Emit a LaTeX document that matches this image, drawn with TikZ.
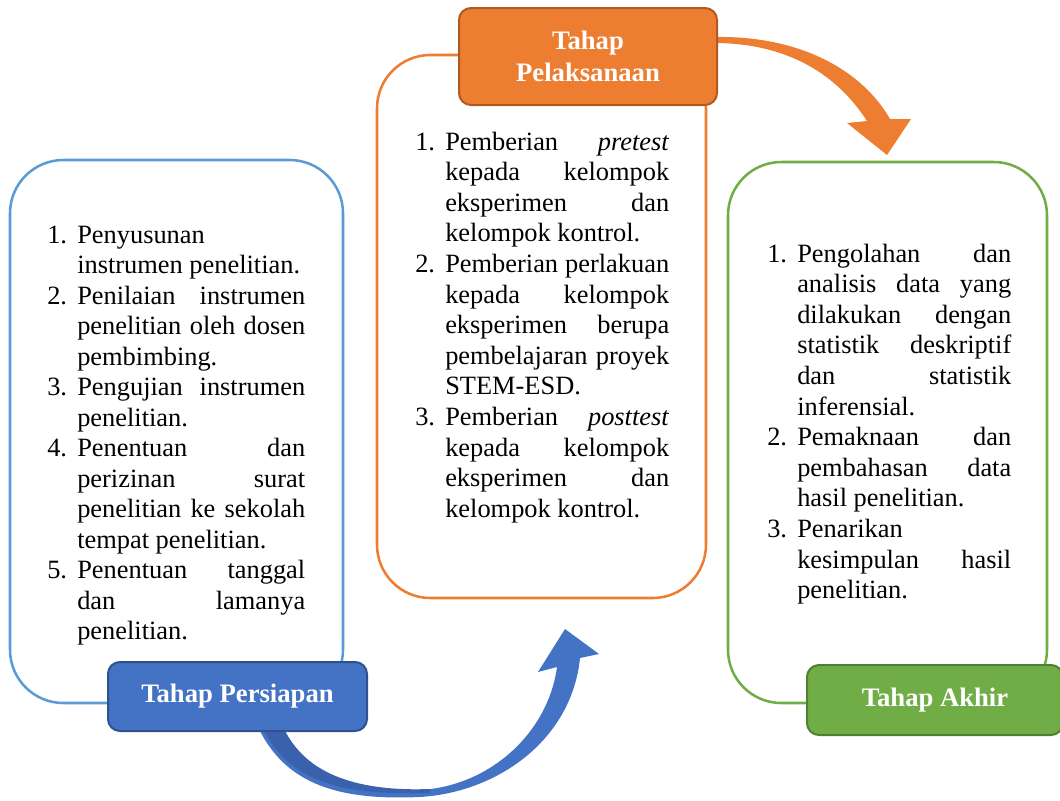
\documentclass[tikz,border=0pt]{standalone}
\usepackage{fontspec}
\setmainfont{Liberation Serif}
\newlength\tw
\newcommand\JL[1]{\hbox to \tw{#1}}
\newcommand\LL[1]{\hbox to \tw{#1\hfil}}
\newcommand\LN[2]{\hbox{\hbox to 22.5pt{#1\hfil}#2}}
\newcommand\bodyfont{\fontsize{19.8pt}{22.875pt}\selectfont}
\newcommand\labfont{\fontsize{20pt}{24pt}\selectfont\bfseries}
\definecolor{bOut}{HTML}{5B9BD5}
\definecolor{bFill}{HTML}{4472C4}
\definecolor{bDark}{HTML}{2F528F}
\definecolor{bShade}{HTML}{3A61AB}
\definecolor{oFill}{HTML}{ED7D31}
\definecolor{oDark}{HTML}{AE5A21}
\definecolor{gFill}{HTML}{70AD47}
\definecolor{gDark}{HTML}{507E32}
\begin{document}
\begin{tikzpicture}[x=0.75pt,y=-0.75pt,
  bigbox/.style={draw, line width=1.9pt, rounded corners=40pt, fill=white, inner sep=0},
  labelbox/.style={line width=1.5pt, rounded corners=9pt, text=white, font=\labfont, inner sep=0, align=center},
  txt/.style={anchor=base west, inner sep=0, font=\bodyfont}]
\useasboundingbox (0,0) rectangle (1060,800);
\clip (0,0) rectangle (1060,800);

% big boxes
\node[bigbox, draw=bOut, minimum width=249.75pt, minimum height=407.25pt] (boxL) at (176.5,431.5) {};
\node[bigbox, draw=oFill, minimum width=246.75pt, minimum height=407.25pt] (boxM) at (541.5,326.5) {};
\node[bigbox, draw=gFill, minimum width=239.25pt, minimum height=405.75pt] (boxR) at (887.5,432.5) {};

% blue curved arrow
\fill[bFill] (260,731) .. controls (290,790) and (350,800) .. (420,797)
  .. controls (500,792) and (572,738) .. (580,658)
  -- (599,654) -- (565,629) -- (538,672) -- (557,667)
  .. controls (548,733) and (490,786) .. (420,790)
  .. controls (350,793) and (305,770) .. (285,731) -- cycle;
\fill[bShade] (264,731) .. controls (293,786) and (350,795) .. (430,793)
  -- (430,789) .. controls (350,792) and (305,770) .. (285,731) -- cycle;

% orange curved arrow
\fill[oFill] (717,37) .. controls (800,36) and (862,70) .. (890,119)
  -- (911,119) -- (887,155) -- (847,123) -- (867,121)
  .. controls (838,76) and (790,44) .. (717,43) -- cycle;

% labels
\node[labelbox, fill=bFill, draw=bDark, minimum width=194.25pt, minimum height=51.75pt] (labL) at (237.5,696.5) {Tahap Persiapan};
\node[labelbox, fill=oFill, draw=oDark, minimum width=193.5pt, minimum height=72.75pt] (labM) at (588,56.5) {Tahap\\Pelaksanaan};
\node[labelbox, fill=gFill, draw=gDark, minimum width=192pt, minimum height=52.5pt] (labR) at (935,700) {Tahap Akhir};

% left text
\node[txt] (txtL) at (47,243) {\vtop{\tw=171pt\baselineskip=22.875pt
  \LN{1.}{\LL{Penyusunan}}
  \LN{}{\LL{instrumen penelitian.}}
  \LN{2.}{\JL{Penilaian instrumen}}
  \LN{}{\JL{penelitian oleh dosen}}
  \LN{}{\LL{pembimbing.}}
  \LN{3.}{\JL{Pengujian instrumen}}
  \LN{}{\LL{penelitian.}}
  \LN{4.}{\JL{Penentuan dan}}
  \LN{}{\JL{perizinan surat}}
  \LN{}{\JL{penelitian ke sekolah}}
  \LN{}{\LL{tempat penelitian.}}
  \LN{5.}{\JL{Penentuan tanggal}}
  \LN{}{\JL{dan lamanya}}
  \LN{}{\LL{penelitian.}}}};

% middle text
\node[txt] (txtM) at (415,150) {\vtop{\tw=168pt\baselineskip=22.95pt
  \LN{1.}{\JL{Pemberian \textit{pretest}}}
  \LN{}{\JL{kepada kelompok}}
  \LN{}{\JL{eksperimen dan}}
  \LN{}{\LL{kelompok kontrol.}}
  \LN{2.}{\JL{Pemberian perlakuan}}
  \LN{}{\JL{kepada kelompok}}
  \LN{}{\JL{eksperimen berupa}}
  \LN{}{\JL{pembelajaran proyek}}
  \LN{}{\LL{STEM-ESD.}}
  \LN{3.}{\JL{Pemberian \textit{posttest}}}
  \LN{}{\JL{kepada kelompok}}
  \LN{}{\JL{eksperimen dan}}
  \LN{}{\LL{kelompok kontrol.}}}};

% right text
\node[txt] (txtR) at (767,262) {\vtop{\tw=160.5pt\baselineskip=22.95pt
  \LN{1.}{\JL{Pengolahan dan}}
  \LN{}{\JL{analisis data yang}}
  \LN{}{\JL{dilakukan dengan}}
  \LN{}{\JL{statistik deskriptif}}
  \LN{}{\JL{dan statistik}}
  \LN{}{\LL{inferensial.}}
  \LN{2.}{\JL{Pemaknaan dan}}
  \LN{}{\JL{pembahasan data}}
  \LN{}{\LL{hasil penelitian.}}
  \LN{3.}{\LL{Penarikan}}
  \LN{}{\JL{kesimpulan hasil}}
  \LN{}{\LL{penelitian.}}}};
\end{tikzpicture}
\end{document}
